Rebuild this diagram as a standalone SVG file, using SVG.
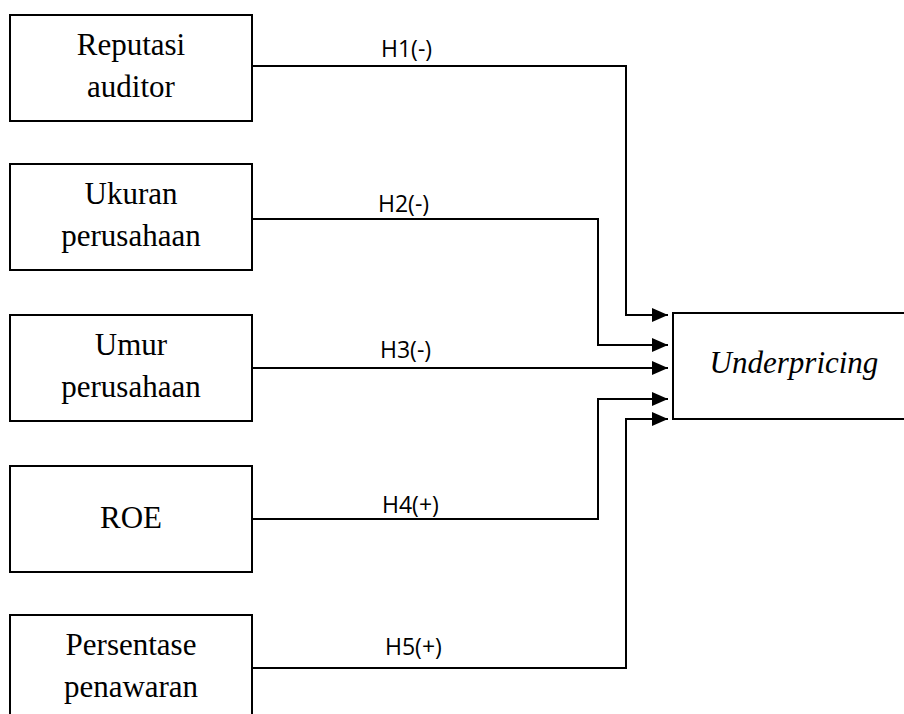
<svg xmlns="http://www.w3.org/2000/svg" width="904" height="714" viewBox="0 0 904 714">
<defs>
<style>
.box{fill:#fff;stroke:#000;stroke-width:2}
.t{font-family:"Liberation Serif","Times New Roman",serif;font-size:31px;fill:#000;text-anchor:middle}
.ti{font-family:"Liberation Serif","Times New Roman",serif;font-size:31px;font-style:italic;fill:#000;text-anchor:middle}
.lbl{font-family:"Open Sans","Liberation Sans",Arial,sans-serif;font-size:23px;fill:#000}
.c{fill:none;stroke:#000;stroke-width:2}
</style>
<marker id="ah" markerWidth="16" markerHeight="14" refX="16" refY="7" orient="auto" markerUnits="userSpaceOnUse">
<path d="M0,0 L16,7 L0,14 Z" fill="#000"/>
</marker>
</defs>
<rect width="904" height="714" fill="#fff"/>
<g id="connectors">
<polyline class="c" points="252,66 626,66 626,315 668,315" marker-end="url(#ah)"/>
<polyline class="c" points="252,219 598,219 598,345 668,345" marker-end="url(#ah)"/>
<polyline class="c" points="252,368 668,368" marker-end="url(#ah)"/>
<polyline class="c" points="252,519 598,519 598,399 668,399" marker-end="url(#ah)"/>
<polyline class="c" points="252,668 626,668 626,419 668,419" marker-end="url(#ah)"/>
<text class="lbl" x="381" y="57">H1(-)</text>
<text class="lbl" x="378" y="212">H2(-)</text>
<text class="lbl" x="380" y="358">H3(-)</text>
<text class="lbl" x="382" y="513">H4(+)</text>
<text class="lbl" x="385" y="655">H5(+)</text>
</g>
<g id="n1"><rect class="box" x="10" y="15" width="242" height="106"/><text class="t" x="131" y="55">Reputasi</text><text class="t" x="131" y="97">auditor</text></g>
<g id="n2"><rect class="box" x="10" y="164" width="242" height="106"/><text class="t" x="131" y="204">Ukuran</text><text class="t" x="131" y="246">perusahaan</text></g>
<g id="n3"><rect class="box" x="10" y="315" width="242" height="106"/><text class="t" x="131" y="355">Umur</text><text class="t" x="131" y="397">perusahaan</text></g>
<g id="n4"><rect class="box" x="10" y="466" width="242" height="106"/><text class="t" x="131" y="528">ROE</text></g>
<g id="n5"><rect class="box" x="10" y="615" width="242" height="106"/><text class="t" x="131" y="655">Persentase</text><text class="t" x="131" y="697">penawaran</text></g>
<g id="n6"><rect class="box" x="673" y="313" width="240" height="106"/><text class="ti" x="794" y="373">Underpricing</text></g>
</svg>
